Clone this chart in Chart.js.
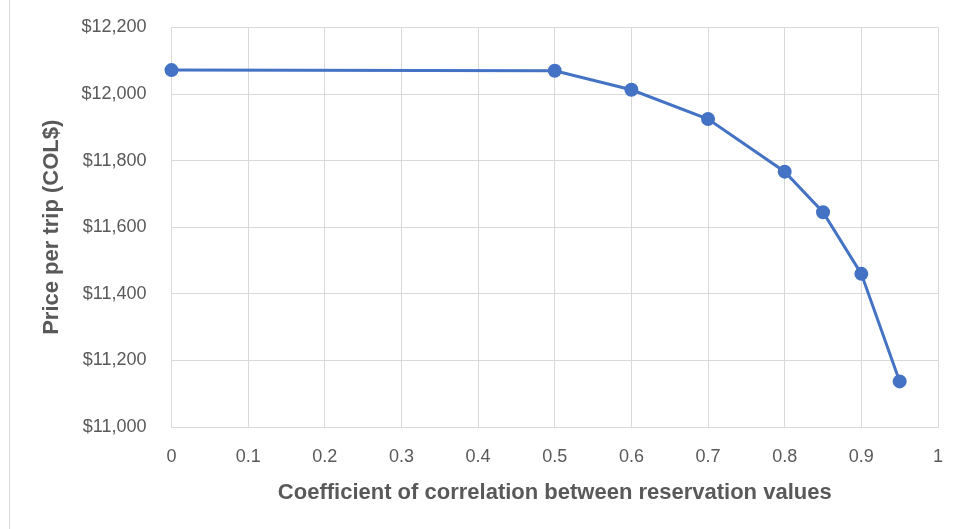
<!DOCTYPE html>
<html>
<head>
<meta charset="utf-8">
<script src="https://cdn.jsdelivr.net/npm/chart.js@4/dist/chart.umd.min.js"></script>
<style>
  html, body { margin: 0; padding: 0; background: #fff; }
  #wrap { position: relative; width: 954px; height: 529px; }
  #frame { position: absolute; left: 9px; top: 0; width: 1px; height: 529px; background: #d9d9d9; }
  canvas { position: absolute; left: 0; top: 0; }
</style>
</head>
<body>
<div id="wrap">
  <div id="frame"></div>
  <canvas id="c" width="954" height="529"></canvas>
</div>
<script>
const correlation = [0, 0.5, 0.6, 0.7, 0.8, 0.85, 0.9, 0.95];
const pricePerTrip = [12072, 12070, 12013, 11925, 11767, 11645, 11460, 11137];
const xTitle = 'Coefficient of correlation between reservation values';
const yTitle = 'Price per trip (COL$)';

const gridColor = '#d9d9d9';
const textColor = '#595959';
const fontFamily = "'Liberation Sans', Arial, sans-serif";

new Chart(document.getElementById('c'), {
  type: 'scatter',
  data: {
    datasets: [{
      data: correlation.map((x, i) => ({ x: x, y: pricePerTrip[i] })),
      showLine: true,
      clip: false,
      borderColor: '#4472c4',
      backgroundColor: '#4472c4',
      borderWidth: 3,
      pointRadius: 5.5,
      pointHoverRadius: 5.5,
      tension: 0
    }]
  },
  options: {
    responsive: false,
    animation: false,
    layout: { padding: { left: 0, right: 16, top: 27.5, bottom: 0 } },
    plugins: { legend: { display: false }, tooltip: { enabled: false } },
    scales: {
      x: {
        type: 'linear',
        min: 0, max: 1,
        afterFit: s => { s.height = 102; s.paddingLeft = 0; s.paddingRight = 0; },
        grid: { color: gridColor, drawTicks: false },
        border: { color: gridColor },
        ticks: {
          stepSize: 0.1, padding: 19, color: textColor,
          font: { family: fontFamily, size: 18 },
          callback: v => String(Math.round(v * 10) / 10)
        },
        title: {
          display: true, text: xTitle, color: textColor,
          font: { family: fontFamily, size: 22, weight: 'bold' },
          padding: { top: 0, bottom: 23 }
        }
      },
      y: {
        min: 11000, max: 12200,
        afterFit: s => { s.width = 171.5; s.paddingTop = 0; s.paddingBottom = 0; },
        grid: { color: gridColor, drawTicks: false },
        border: { color: gridColor },
        ticks: {
          stepSize: 200, padding: 25, color: textColor,
          font: { family: fontFamily, size: 18 },
          callback: v => '$' + v.toLocaleString('en-US')
        },
        title: {
          display: true, text: yTitle, color: textColor,
          font: { family: fontFamily, size: 22, weight: 'bold' },
          padding: { top: 39, bottom: 0 }
        }
      }
    }
  }
});
</script>
</body>
</html>
